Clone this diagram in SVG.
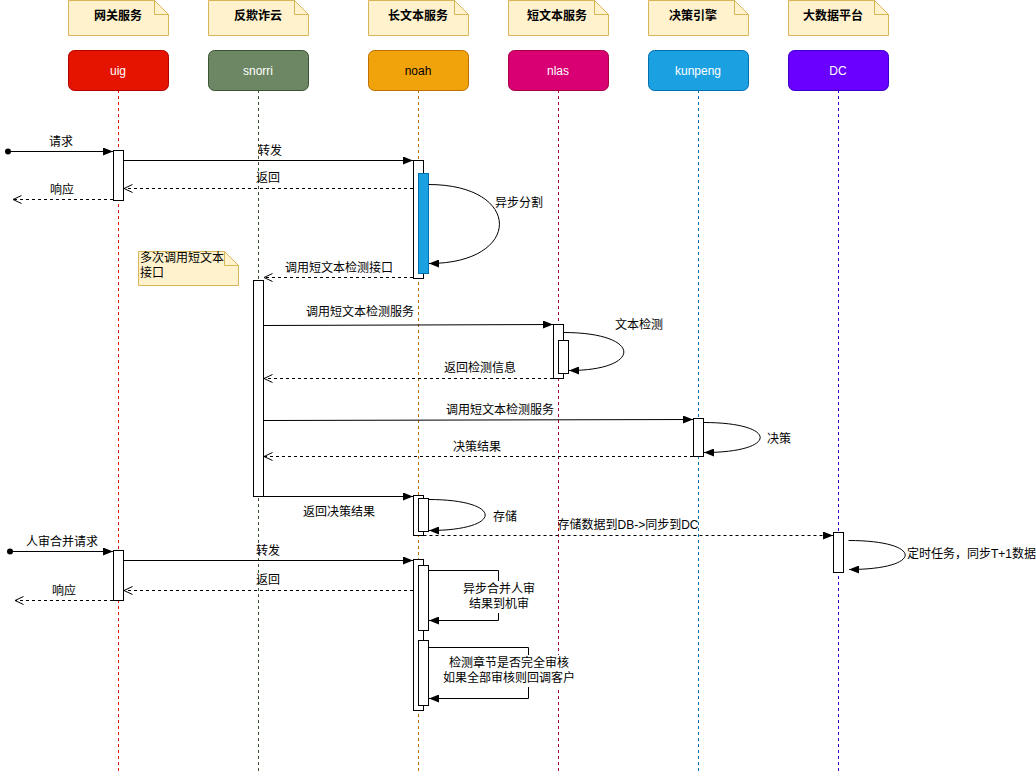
<svg xmlns="http://www.w3.org/2000/svg" width="1036" height="771" viewBox="0 0 1036 771">
  <style>
    text { font-family: "Liberation Sans", "Noto Sans CJK SC", sans-serif; font-size: 12px; fill: #000; }
    .hdr { font-size: 12px; font-weight: bold; text-anchor: middle; }
    .name { font-size: 12px; fill: #fff; text-anchor: middle; }
    .mid { text-anchor: middle; }
    .note { fill: #fff2cc; stroke: #d6b656; stroke-width: 1; }
    .box { stroke-width: 1; }
    .life { fill: none; stroke-width: 1; stroke-dasharray: 3 3; }
    .act { fill: #fff; stroke: #000; stroke-width: 1; }
    .msg { fill: none; stroke: #000; stroke-width: 1; }
    .ret { fill: none; stroke: #000; stroke-width: 1; stroke-dasharray: 3 3; }
    .lblbg { fill: #fff; stroke: none; }
  </style>
  <defs>
    <marker id="block" viewBox="0 0 10 8" refX="10" refY="4" markerWidth="10" markerHeight="8" orient="auto" markerUnits="userSpaceOnUse">
      <path d="M0,0 L10,4 L0,8 Z" fill="#000"/>
    </marker>
    <marker id="open" viewBox="0 0 10 10" refX="9.5" refY="5" markerWidth="10" markerHeight="10" orient="auto" markerUnits="userSpaceOnUse">
      <path d="M1,1 L9.5,5 L1,9" fill="none" stroke="#000" stroke-width="1"/>
    </marker>
  </defs>

  <!-- participants: note + header box + lifeline -->
  <g id="uig">
    <path class="note" d="M68.5,0.5 H154.5 L168.5,14.5 V35.5 H68.5 Z"/>
    <path d="M154.5,0.5 V14.5 H168.5" fill="none" stroke="#d6b656"/>
    <text class="hdr" x="118" y="20">网关服务</text>
    <line class="life" x1="118.5" y1="90" x2="118.5" y2="771" stroke="#e51400"/>
    <rect class="box" x="68.5" y="50.5" width="100" height="40" rx="6" fill="#e51400" stroke="#b20000"/>
    <text class="name" x="118" y="75">uig</text>
  </g>
  <g id="snorri">
    <path class="note" d="M208.5,0.5 H294.5 L308.5,14.5 V35.5 H208.5 Z"/>
    <path d="M294.5,0.5 V14.5 H308.5" fill="none" stroke="#d6b656"/>
    <text class="hdr" x="258" y="20">反欺诈云</text>
    <line class="life" x1="258.5" y1="90" x2="258.5" y2="771" stroke="#3a5431"/>
    <rect class="box" x="208.5" y="50.5" width="100" height="40" rx="6" fill="#6d8764" stroke="#3a5431"/>
    <text class="name" x="258" y="75">snorri</text>
  </g>
  <g id="noah">
    <path class="note" d="M368.5,0.5 H454.5 L468.5,14.5 V35.5 H368.5 Z"/>
    <path d="M454.5,0.5 V14.5 H468.5" fill="none" stroke="#d6b656"/>
    <text class="hdr" x="418" y="20">长文本服务</text>
    <line class="life" x1="418.5" y1="90" x2="418.5" y2="771" stroke="#bd7000"/>
    <rect class="box" x="368.5" y="50.5" width="100" height="40" rx="6" fill="#f0a30a" stroke="#bd7000"/>
    <text class="name" x="418" y="75" style="fill:#000">noah</text>
  </g>
  <g id="nlas">
    <path class="note" d="M508.5,0.5 H594.5 L608.5,14.5 V35.5 H508.5 Z"/>
    <path d="M594.5,0.5 V14.5 H608.5" fill="none" stroke="#d6b656"/>
    <text class="hdr" x="557" y="20">短文本服务</text>
    <line class="life" x1="558.5" y1="90" x2="558.5" y2="771" stroke="#a50040"/>
    <rect class="box" x="508.5" y="50.5" width="100" height="40" rx="6" fill="#d80073" stroke="#a50040"/>
    <text class="name" x="558" y="75">nlas</text>
  </g>
  <g id="kunpeng">
    <path class="note" d="M648.5,0.5 H734.5 L748.5,14.5 V35.5 H648.5 Z"/>
    <path d="M734.5,0.5 V14.5 H748.5" fill="none" stroke="#d6b656"/>
    <text class="hdr" x="693" y="20">决策引擎</text>
    <line class="life" x1="698.5" y1="90" x2="698.5" y2="771" stroke="#006eaf"/>
    <rect class="box" x="648.5" y="50.5" width="100" height="40" rx="6" fill="#1ba1e2" stroke="#006eaf"/>
    <text class="name" x="698" y="75">kunpeng</text>
  </g>
  <g id="DC">
    <path class="note" d="M788.5,0.5 H874.5 L888.5,14.5 V35.5 H788.5 Z"/>
    <path d="M874.5,0.5 V14.5 H888.5" fill="none" stroke="#d6b656"/>
    <text class="hdr" x="833" y="20">大数据平台</text>
    <line class="life" x1="838.5" y1="90" x2="838.5" y2="771" stroke="#3700cc"/>
    <rect class="box" x="788.5" y="50.5" width="100" height="40" rx="6" fill="#6a00ff" stroke="#3700cc"/>
    <text class="name" x="838" y="75">DC</text>
  </g>

  <!-- side note -->
  <g id="note-multi">
    <path class="note" d="M138.5,251.5 H224.5 L238.5,265.5 V285.5 H138.5 Z"/>
    <path d="M224.5,251.5 V265.5 H238.5" fill="none" stroke="#d6b656"/>
    <text x="140" y="262">多次调用短文本</text>
    <text x="140" y="277">接口</text>
  </g>

  <!-- activation bars -->
  <g id="activations">
    <rect class="act" x="113.5" y="150.5" width="10" height="50"/>
    <rect class="act" x="413.5" y="160.5" width="10" height="118"/>
    <rect x="418.5" y="173.5" width="10" height="100" fill="#1ba1e2" stroke="#006eaf"/>
    <rect class="act" x="253.5" y="280.5" width="10" height="216"/>
    <rect class="act" x="553.5" y="324.5" width="10" height="54"/>
    <rect class="act" x="558.5" y="340.5" width="10" height="33"/>
    <rect class="act" x="693.5" y="418.5" width="10" height="38"/>
    <rect class="act" x="413.5" y="495.5" width="10" height="40"/>
    <rect class="act" x="418.5" y="498.5" width="10" height="33" stroke="#666"/>
    <rect class="act" x="833.5" y="532.5" width="10" height="40"/>
    <rect class="act" x="113.5" y="550.5" width="10" height="50"/>
    <rect class="act" x="413.5" y="559.5" width="10" height="151"/>
    <rect class="act" x="418.5" y="565.5" width="10" height="65"/>
    <rect class="act" x="418.5" y="640.5" width="10" height="65"/>
  </g>

  <!-- messages -->
  <g id="connectors">
    <circle cx="8" cy="151.5" r="3" fill="#000"/>
    <line class="msg" x1="8" y1="151.5" x2="113" y2="151.5" marker-end="url(#block)"/>
    <text class="mid" x="61" y="146">请求</text>

    <line class="msg" x1="123.5" y1="160.5" x2="413" y2="160.5" marker-end="url(#block)"/>
    <text class="mid" x="270" y="155">转发</text>

    <line class="ret" x1="413" y1="188.5" x2="124" y2="188.5" marker-end="url(#open)"/>
    <text class="mid" x="268" y="182">返回</text>

    <line class="ret" x1="113" y1="199.5" x2="13" y2="199.5" marker-end="url(#open)"/>
    <text class="mid" x="62" y="194">响应</text>

    <path class="msg" d="M428.5,184.5 C523,184.5 523,263.5 429,263.5" marker-end="url(#block)"/>
    <text x="495" y="207">异步分割</text>

    <line class="ret" x1="413" y1="277.5" x2="264" y2="277.5" marker-end="url(#open)"/>
    <text class="mid" x="339" y="272">调用短文本检测接口</text>

    <line class="msg" x1="263.5" y1="325.5" x2="553" y2="324.5" marker-end="url(#block)"/>
    <text class="mid" x="360" y="316">调用短文本检测服务</text>

    <path class="msg" d="M563.5,332.5 C643,332.5 643,370.5 569,370.5" marker-end="url(#block)"/>
    <text x="615" y="329">文本检测</text>

    <line class="ret" x1="553" y1="378.5" x2="264" y2="378.5" marker-end="url(#open)"/>
    <text class="mid" x="480" y="372">返回检测信息</text>

    <line class="msg" x1="263.5" y1="420.5" x2="693" y2="419.5" marker-end="url(#block)"/>
    <text class="mid" x="500" y="414">调用短文本检测服务</text>

    <path class="msg" d="M703.5,422.5 C779,422.5 779,452.5 704,452.5" marker-end="url(#block)"/>
    <text x="767" y="443">决策</text>

    <line class="ret" x1="693" y1="456.5" x2="264" y2="456.5" marker-end="url(#open)"/>
    <text class="mid" x="477" y="451">决策结果</text>

    <line class="msg" x1="263.5" y1="496.5" x2="413" y2="496.5" marker-end="url(#block)"/>
    <text class="mid" x="339" y="516">返回决策结果</text>

    <path class="msg" d="M428.5,499.5 C504,499.5 504,530.5 429,530.5" marker-end="url(#block)"/>
    <text x="493" y="521">存储</text>

    <line class="ret" x1="423.5" y1="535.5" x2="833" y2="535.5" marker-end="url(#block)"/>
    <text class="mid" x="628" y="529">存储数据到DB-&gt;同步到DC</text>

    <path class="msg" d="M848.5,540.5 C924,540.5 924,569.5 849,569.5" marker-end="url(#block)"/>
    <text x="907" y="558">定时任务，同步T+1数据</text>

    <circle cx="10" cy="551.5" r="3" fill="#000"/>
    <line class="msg" x1="10" y1="551.5" x2="113" y2="551.5" marker-end="url(#block)"/>
    <text class="mid" x="62" y="546">人审合并请求</text>

    <line class="msg" x1="123.5" y1="560.5" x2="413" y2="560.5" marker-end="url(#block)"/>
    <text class="mid" x="268" y="555">转发</text>

    <line class="ret" x1="413" y1="590.5" x2="124" y2="590.5" marker-end="url(#open)"/>
    <text class="mid" x="268" y="584">返回</text>

    <line class="ret" x1="113" y1="600.5" x2="15" y2="600.5" marker-end="url(#open)"/>
    <text class="mid" x="64" y="595">响应</text>

    <path class="msg" d="M428.5,570.5 H498.5 V620.5 H429" marker-end="url(#block)"/>
    <rect class="lblbg" x="462" y="581" width="74" height="32"/>
    <text class="mid" x="499" y="593">异步合并人审</text>
    <text class="mid" x="499" y="608">结果到机审</text>

    <path class="msg" d="M428.5,647.5 H528.5 V698.5 H429" marker-end="url(#block)"/>
    <rect class="lblbg" x="448" y="655" width="122" height="32"/>
    <text class="mid" x="509" y="667">检测章节是否完全审核</text>
    <text class="mid" x="509" y="682">如果全部审核则回调客户</text>
  </g>
</svg>
